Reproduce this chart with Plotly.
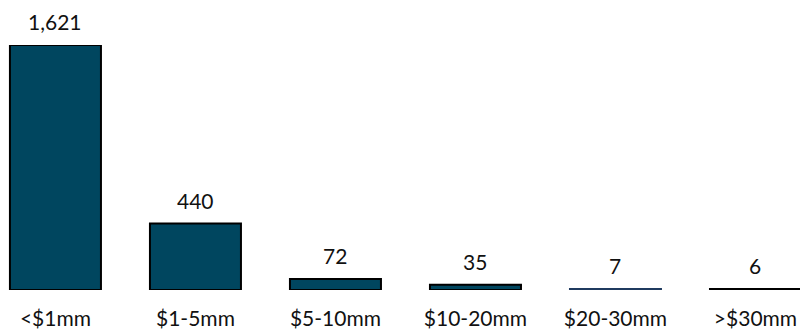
import plotly.graph_objects as go

categories = ["<$1mm", "$1-5mm", "$5-10mm", "$10-20mm", "$20-30mm", ">$30mm"]
values = [1621, 440, 72, 35, 7, 6]
labels = ["1,621", "440", "72", "35", "7", "6"]
outline_colors = ["#000000", "#000000", "#000000", "#000000", "#1f3a5f", "#000000"]

fig = go.Figure()
fig.add_trace(go.Bar(
    x=categories, y=values, width=0.65,
    marker=dict(color="#00465f", line=dict(color=outline_colors, width=2)),
    hoverinfo="skip",
))
for c, v, t in zip(categories, values, labels):
    fig.add_annotation(x=c, y=v, text=t, showarrow=False, yanchor="bottom",
                       yshift=9, font=dict(family="Lato", size=21, color="#111111"))

fig.update_layout(
    width=800, height=331,
    margin=dict(l=0, r=0, t=45, b=41),
    paper_bgcolor="white", plot_bgcolor="white",
    showlegend=False,
    xaxis=dict(range=[-0.396, 5.318], showgrid=False, showline=False, zeroline=False,
               ticks="outside", ticklen=10, tickcolor="rgba(0,0,0,0)",
               tickfont=dict(family="Lato", size=21, color="#111111")),
    yaxis=dict(range=[0, 1621], visible=False, showgrid=False, zeroline=False),
)
fig.write_html("out.html")
